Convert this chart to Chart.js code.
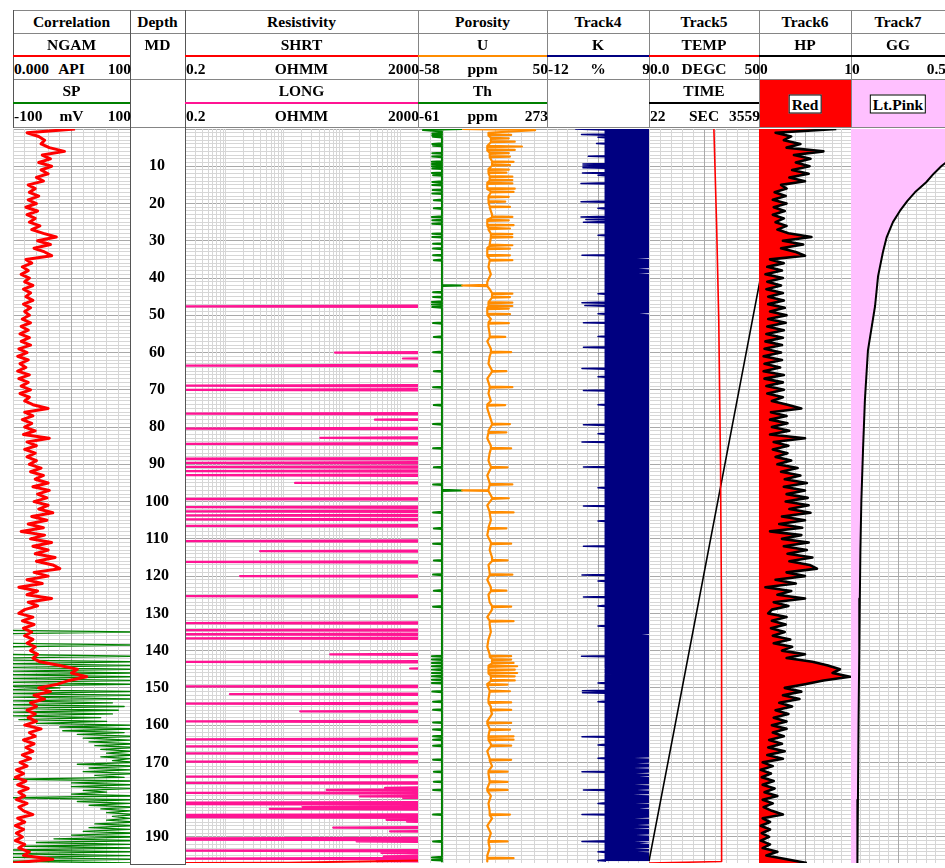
<!DOCTYPE html>
<html>
<head>
<meta charset="utf-8">
<script src="https://cdn.jsdelivr.net/npm/chart.js@4.4.1/dist/chart.umd.min.js"></script>
<style>
  html, body { margin: 0; padding: 0; background: #fff; }
  body { position: relative; width: 945px; height: 868px; overflow: hidden;
         font-family: "Liberation Serif", "Times New Roman", serif; }
  .hl { position: absolute; height: 1px; background: #858585; z-index: 2; }
  .vl { position: absolute; width: 1px; background: #858585; z-index: 2; }
  .bar { position: absolute; height: 2px; z-index: 2; }
  .t { position: absolute; white-space: nowrap; font-weight: bold; font-size: 15.5px; line-height: 1; color: #000; z-index: 3; }
  .box { position: absolute; }
  .tag { position: absolute; background: #fff; border: 1px solid #000; font-weight: bold; font-size: 15.5px;
         line-height: 17px; padding: 0 2px; transform: translate(-50%, -50%); white-space: nowrap; z-index: 3; }
  .plot { position: absolute; z-index: 1; }
</style>
</head>
<body>
<script>
// ---------------- depth axis ----------------
const DEPTH_MIN = 0;
const DEPTH_MAX = 197;
const depthLabels = [10, 20, 30, 40, 50, 60, 70, 80, 90, 100, 110, 120, 130, 140, 150, 160, 170, 180, 190];

// ---------------- header text ----------------
const trackTitles = ['Correlation', 'Depth', 'Resistivity', 'Porosity', 'Track4', 'Track5', 'Track6', 'Track7'];
// [track, row, mnemonic, left scale, unit, right scale, colour]
const curveHeaders = [
  [0, 0, 'NGAM', '0.000', 'API', '100', '#ff0000'],
  [0, 1, 'SP', '-100', 'mV', '100', '#008000'],
  [2, 0, 'SHRT', '0.2', 'OHMM', '2000', '#ff0000'],
  [2, 1, 'LONG', '0.2', 'OHMM', '2000', '#ff1493'],
  [3, 0, 'U', '-58', 'ppm', '50', '#ff8c00'],
  [3, 1, 'Th', '-61', 'ppm', '273', '#008000'],
  [4, 0, 'K', '-12', '%', '9', '#000080'],
  [5, 0, 'TEMP', '0.0', 'DEGC', '50', '#ff0000'],
  [5, 1, 'TIME', '22', 'SEC', '3559', '#000000'],
  [6, 0, 'HP', '0', '', '1', '#000000'],
  [7, 0, 'GG', '0', '', '0.5', '#000000']
];
// [track, label, fill colour]
const fillLegends = [
  [6, 'Red', '#ff0000'],
  [7, 'Lt.Pink', '#ffc0ff']
];

// ---------------- curve data ----------------
// NGAM (API), one sample per metre, 0..197 m
const ngam = [
  53,12,22,27,24,31,44,25,32,22,
  33,24,30,20,26,13,19,14,22,13,
  20,11,21,12,19,14,23,16,26,37,
  21,32,18,27,33,11,16,8,13,7,
  14,10,17,9,15,11,17,9,15,10,
  14,8,15,7,13,6,14,7,15,5,
  12,4,13,6,11,4,14,5,13,7,
  15,6,14,10,17,30,10,17,8,16,
  10,19,9,31,12,20,10,19,12,20,
  14,24,15,26,19,30,17,31,21,29,
  18,30,22,34,16,29,13,26,7,27,
  15,33,17,30,19,36,20,34,40,18,
  30,12,25,5,21,12,33,13,21,10,
  5,17,8,18,9,16,10,17,12,19,
  15,21,17,23,40,55,50,63,48,38,
  22,32,18,27,15,20,12,19,13,20,
  10,24,14,19,9,18,11,17,8,15,
  6,12,3,9,2,11,4,13,5,10,
  3,12,5,9,17,4,10,2,9,3,
  8,2,10,5,14,9,34,0
];

// SP (mV), every 0.5 m from 134 m
const spStart = 134;
const spStep = 0.5;
const sp = [
  -120,-120,110,-120,-120,-120,-120,-120,-120,110,
  -120,-120,-120,-120,-120,110,-120,-120,110,-110,
  110,-110,110,-110,110,-110,110,-110,110,-110,
  110,-110,-20,-110,110,-110,110,-100,110,-100,
  70,-110,90,-110,80,-100,70,-100,50,-90,
  60,-60,100,-20,110,-15,90,10,110,20,
  100,30,110,40,110,50,100,60,110,50,
  100,70,110,10,110,30,100,20,110,40,
  90,-110,110,0,100,0,110,20,60,0,
  110,-110,110,10,100,30,110,50,100,60,
  110,70,100,60,110,40,110,30,100,20,
  110,0,110,-30,110,-60,100,-80,110,-110,
  110,-110,100,-100,110,-110,100
];

// LONG (ohmm): reads above 2000 except at these depths [m, ohmm]
const RES_ABOVE_SCALE = 10000;
const longDips = [
  [47.6,0.1],[60.0,75],[61.6,1100],[63.5,0.1],[68.9,0.1],[70.0,0.1],[76.4,0.1],[78.0,364],
  [80.4,0.1],[82.9,42],[84.5,0.1],[88.5,0.1],[89.6,0.1],[90.7,0.1],[91.8,0.1],[92.9,0.1],
  [95.0,15.5],[99.3,0.1],[101.5,0.1],[102.6,0.1],[103.7,0.1],[104.8,0.1],[106.5,0.1],
  [110.6,0.1],[113.3,3.9],[116.2,0.1],[120.0,1.76],[125.4,0.1],[132.6,0.1],[134.5,0.1],
  [135.6,0.1],[136.7,0.1],[141.0,62],[143.0,0.1],[144.8,1460],[149.6,0.1],[151.7,1.18],
  [154.2,0.1],[156.3,19],[159.0,0.1],[163.8,0.1],[165.7,0.1],[167.6,0.1],[169.8,0.1],
  [173.8,0.1],[175.5,0.1],[176.8,544],[177.4,54],[178.2,0.1],[179.1,200],[179.5,1100],
  [180.8,0.1],[181.2,0.1],[182.0,21],[182.5,5.7],[184.1,0.1],[184.7,0.1],[185.4,576],
  [185.9,1300],[187.5,70],[188.5,660],[190.4,0.1],[190.7,0.1],[191.2,177],[193.7,0.1],
  [194.3,470],[195.2,520],[195.8,0.1],[196.5,390]
];
// SHRT (ohmm): only comes on scale in the last samples
const shrtDepth = [0, 196.2, 196.5, 196.9, 197];
const shrtVal = [10000, 10000, 395, 11.7, 0.1];

// U (ppm): top readings, then base trend every 2 m from 1 m, plus excursions
const uTop = [[0, -21], [0.3, 40]];
const uBaseStart = 1;
const uBaseStep = 2;
const uBase = [
  1,3,0,2,4,1,2,0,3,1,
  2,4,0,1,3,2,0,2,1,3,
  0,2,4,1,0,3,1,2,0,3,
  2,1,4,0,2,1,3,0,2,4,
  1,0,3,2,1,3,0,2,1,4,
  0,2,3,1,0,3,2,4,1,2,
  0,3,1,2,4,0,2,3,1,0,
  2,4,1,3,0,2,1,3,4,0,
  2,1,3,0,2,4,1,2,0,3,
  1,2,4,0,3,1,2,0
];
const uEnd = 196.6;
const uPeaks = [
  [1.6,20],[2.5,18],[3.4,23],[4.7,29],[5.6,23],[6.5,18],[7.4,19],[8.8,22],[9.7,19],[10.9,18],
  [11.7,16],[12.8,21],[13.7,21],[14.6,21],[16.0,23],[16.9,22],[18.2,18],[19.5,15],[20.9,19],
  [23.6,21],[24.5,18],[25.8,22],[26.7,19],[28.2,21],[29.0,21],[31.2,21],[32.1,19],[33.9,19],
  [35.2,21],[42.0,-21],[44.2,21],[45.1,19],[46.6,21],[47.5,21],[48.2,18],[49.7,19],
  [52.1,18],[55.8,15],[59.9,20],[65.0,16],[69.3,21],[74.1,15],[79.2,19],[81.4,16],[85.7,20],
  [90.8,17],[95.4,21],[97.0,-21],[99.1,18],[102.9,22],[107.2,16],[111.3,20],[115.8,17],
  [119.6,21],[123.9,16],[128.2,20],[132.1,22],[141.5,20],[142.4,20],[143.3,22],[144.2,25],
  [145.1,23],[146.0,25],[146.9,23],[148.0,23],[149.1,17],[150.9,19],[153.9,20],[155.9,20],
  [159.4,20],[161.2,19],[163.0,22],[163.9,22],[165.5,20],[169.3,20],[172.5,17],[175.2,17],
  [177.4,17],[184.0,19],[191.2,17],[195.7,22]
];

// Th (ppm): steady base with excursions
const thBase = [[0, 53], [0.3, -48], [0.7, 1], [196.6, 1]];
const thPeaks = [
  [1.2,-24],[1.7,-24],[2.1,-22],[4.0,-24],[4.5,-22],[6.5,-24],[7.4,-24],[8.8,-25],[9.4,-25],
  [10.0,-25],[10.6,-24],[11.8,-25],[12.4,-22],[14.2,-24],[15.0,-24],[16.4,-23],[17.3,-24],
  [19.1,-20],[21.3,-20],[23.6,-25],[24.5,-24],[25.4,-24],[28.1,-24],[29.0,-24],[30.8,-22],
  [32.1,-22],[33.9,-22],[35.2,-20],[42.0,53],[43.8,-22],[45.1,-22],[46.4,-25],[47.1,-25],
  [47.8,-24],[52.1,-22],[55.8,-20],[59.9,-22],[65.0,-20],[69.3,-22],[74.1,-20],[79.2,-22],
  [85.7,-22],[90.8,-20],[95.4,-22],[97.0,53],[102.9,-22],[107.2,-20],[111.3,-22],[115.8,-20],
  [119.6,-22],[123.9,-20],[128.2,-22],[141.5,-25],[142.4,-25],[143.3,-25],[144.2,-25],
  [145.1,-25],[146.0,-25],[146.9,-25],[147.8,-25],[148.7,-25],[151.0,-24],[153.7,-22],
  [155.9,-22],[159.3,-22],[161.2,-22],[163.0,-22],[163.9,-22],[165.5,-22],[169.3,-22],
  [172.5,-20],[175.2,-20],[177.4,-22],[184.0,-22],[191.2,-22],[195.5,-25],[196.2,-25]
];

// K (%): the trace swings between a low and a high envelope
const kLowBase = [[0, -6.2], [0.3, 0], [196.5, 0]];
const kLowPeaks = [
  [1.5,-4.9],[2.2,-1.5],[3.9,-1.8],[7.3,-3.5],[9.4,-4.6],[9.9,-4.6],[10.4,-4.6],[11.8,-4.7],
  [12.4,-1.5],[14.6,-5],[19.5,-5],[21.3,-1.5],[23.6,-5],[24.3,-4],[25.0,-4.5],[28.5,-1.5],
  [33.9,-4.8],[44.2,-1.5],[46.6,-4.8],[47.4,-4.2],[49.6,-1.5],[52.0,-4.5],[55.7,-1.5],
  [58.6,-4.5],[64.3,-4.8],[66.5,-1.5],[70.2,-4.5],[74.0,-1.5],[79.4,-4.5],[81.8,-1.5],
  [84.0,-4.8],[90.7,-4.5],[96.3,-1.5],[101.2,-4.5],[105.2,-1.5],[112.0,-4.5],[119.7,-4.8],
  [121.3,-1.5],[125.6,-4.5],[128.0,-1.5],[133.4,-1.5],[141.5,-4.9],[144.8,3],[146.2,3],
  [148.7,-1.5],[150.8,-4.7],[151.3,-4.7],[153.7,-1.5],[163.1,-4.8],[165.3,-1.5],[168.9,-1.5],
  [172.5,-4.8],[177.4,-4.5],[181.0,-1.5],[184.0,-4.8],[191.2,-4.8],[194.0,-1.5],[196.3,-1.5]
];
const kHighBase = [[0, 9.6], [196.5, 9.6]];
const kHighDips = [
  [34.8,6.5],[37.5,6.8],[38.8,6.8],[49.6,7],[135.7,7.5],[168.8,6.0],[170.2,6.5],[171.5,5.8],
  [172.9,6.3],[173.8,7.0],[176.0,6.0],[177.4,6.5],[178.7,5.8],[181.0,6.2],[182.3,7.0],
  [185.0,6.0],[186.8,6.6],[187.7,5.8],[189.5,6.3],[191.3,6.0],[191.7,7.0],[193.1,6.1],[194.0,6.6]
];

// TEMP (DEGC) and TIME (SEC)
const tempDepth = [0, 25, 51, 90, 132, 196.6, 197];
const tempVal = [29.5, 30.7, 31.7, 32.5, 33.0, 33.0, 0];
const timeDepth = [0, 40, 80, 120, 160, 196.5];
const timeVal = [4518, 3605, 2690, 1775, 861, 22];

// HP (0..1), one sample per metre, 0..197 m
const hp = [
  .84,.18,.35,.27,.45,.30,.70,.38,.56,.40,
  .55,.36,.54,.33,.50,.24,.30,.17,.29,.15,
  .30,.16,.28,.15,.27,.18,.30,.20,.32,.57,
  .26,.48,.24,.40,.50,.12,.27,.09,.25,.07,
  .26,.09,.24,.08,.26,.10,.27,.10,.28,.12,
  .30,.10,.29,.09,.27,.08,.26,.07,.25,.06,
  .24,.05,.25,.06,.23,.05,.27,.06,.26,.08,
  .27,.09,.26,.14,.31,.46,.13,.30,.12,.31,
  .14,.33,.12,.50,.16,.32,.15,.31,.18,.35,
  .20,.42,.24,.45,.28,.52,.27,.50,.30,.53,
  .29,.54,.33,.56,.25,.50,.22,.47,.12,.46,
  .25,.54,.27,.52,.31,.58,.33,.55,.63,.30,
  .50,.18,.40,.07,.35,.20,.50,.16,.32,.14,
  .10,.30,.14,.29,.13,.28,.15,.34,.16,.36,
  .25,.50,.30,.58,.75,.88,.80,.99,.70,.50,
  .28,.46,.26,.44,.22,.36,.18,.32,.16,.30,
  .14,.30,.15,.27,.11,.25,.10,.28,.09,.26,
  .04,.15,.02,.13,.03,.16,.04,.17,.06,.20,
  .04,.15,.05,.14,.26,.04,.12,.02,.12,.03,
  .11,.02,.12,.04,.20,.08,.30,.52
];

// GG (0..0.5)
const ggDepth = [0, 4, 8, 10, 12, 14.3, 17, 19.3, 22, 25, 29, 33, 39.5, 47.5, 59.5, 72.7, 86, 100, 113, 126, 140, 160, 180, 197];
const ggVal = [1.0, 0.70, 0.53, 0.48, 0.44, 0.40, 0.34, 0.30, 0.26, 0.223, 0.19, 0.17, 0.144, 0.128, 0.09, 0.074, 0.064, 0.055, 0.05, 0.047, 0.044, 0.04, 0.037, 0.034];

// ---------------- layout ----------------
const colEdges = [13, 130, 185, 418, 547, 649, 759, 851, 945];
const PLOT_TOP = 129, PLOT_BOTTOM = 863;
const HEAD = { top: 10, title: 33, mn0: 56, sc0: 79, mn1: 103, sc1: 127 };
const GRID_MINOR = '#d6d6d6';
const GRID_MAJOR = '#a9a9a9';
const FONT_FAMILY = '"Liberation Serif", "Times New Roman", serif';

function el(cls, css, text) {
  const d = document.createElement('div');
  d.className = cls;
  Object.assign(d.style, css);
  if (text !== undefined) d.textContent = text;
  document.body.appendChild(d);
  return d;
}
function textAt(text, x, y, align) {
  const shift = align === 'left' ? '0' : align === 'right' ? '-100%' : '-50%';
  el('t', { left: x + 'px', top: y + 'px', transform: `translate(${shift}, -50%)` }, text);
}

// ---------------- header ----------------
function buildHeader() {
  const L = colEdges[0], R = colEdges[colEdges.length - 1];
  [HEAD.top, HEAD.title, HEAD.sc0, HEAD.sc1].forEach(y =>
    el('hl', { left: L + 'px', top: y + 'px', width: (R - L) + 'px' }));
  colEdges.forEach((x, i) => {
    const isDepthSide = i === 1 || i === 2;
    el('vl', { left: x + 'px', top: HEAD.top + 'px',
      height: ((isDepthSide ? 864 : HEAD.sc1) - HEAD.top + 1) + 'px',
      background: (i === 0 || isDepthSide) ? '#555' : '#858585' });
  });
  el('hl', { left: colEdges[1] + 'px', top: '864px', width: (colEdges[2] - colEdges[1] + 1) + 'px', background: '#555' });

  trackTitles.forEach((t, i) => textAt(t, (colEdges[i] + colEdges[i + 1]) / 2, 22, 'center'));
  textAt('MD', (colEdges[1] + colEdges[2]) / 2, 45, 'center');

  curveHeaders.forEach(([tr, row, name, lo, unit, hi, color]) => {
    const x0 = colEdges[tr], x1 = colEdges[tr + 1];
    const lineY = row === 0 ? HEAD.mn0 - 1 : HEAD.mn1 - 1;
    const nameY = row === 0 ? 45 : 91;
    const scaleY = row === 0 ? 68.5 : 115.5;
    el('bar', { left: x0 + 'px', top: lineY + 'px', width: (x1 - x0) + 'px', background: color });
    textAt(name, (x0 + x1) / 2, nameY, 'center');
    textAt(lo, x0 + 1, scaleY, 'left');
    if (unit) textAt(unit, (x0 + x1) / 2, scaleY, 'center');
    textAt(hi, x1 + 1, scaleY, 'right');
  });

  fillLegends.forEach(([tr, label, color]) => {
    const x0 = colEdges[tr], x1 = colEdges[tr + 1];
    el('box', { left: (x0 + 1) + 'px', top: (HEAD.sc0 + 1) + 'px', width: (x1 - x0 - 1) + 'px',
      height: (HEAD.sc1 - HEAD.sc0 - 1) + 'px', background: color });
    el('tag', { left: ((x0 + x1) / 2) + 'px', top: '104px' }, label);
  });
}
buildHeader();

// ---------------- data helpers ----------------
const fromGrid = (vals, start, step) => vals.map((v, i) => ({ y: start + i * step, x: v }));
const fromPairs = pairs => pairs.map(([d, v]) => ({ y: d, x: v }));
const fromColumns = (depths, vals) => depths.map((d, i) => ({ y: d, x: vals[i] }));

// nearest recorded base reading for a depth
function nearestBase(points, d) {
  let best = points[0];
  points.forEach(p => { if (Math.abs(p.y - d) < Math.abs(best.y - d)) best = p; });
  return best.x;
}
// add short single-sample excursions to a base trace
function withExcursions(base, peaks, half) {
  const pts = base.slice();
  peaks.forEach(([d, v]) => {
    const b = nearestBase(base, d);
    pts.push({ y: d - half, x: b }, { y: d, x: v }, { y: d + half, x: b });
  });
  return pts.sort((a, b) => a.y - b.y);
}

// ---------------- scales ----------------
const depthGrid = [];
for (let d = DEPTH_MIN; d <= DEPTH_MAX; d++) depthGrid.push(d);

function depthScale() {
  return {
    type: 'linear', reverse: true, min: DEPTH_MIN, max: DEPTH_MAX,
    afterBuildTicks: s => { s.ticks = depthGrid.map(v => ({ value: v })); },
    afterFit: s => { s.width = 0; s.paddingTop = 0; s.paddingBottom = 0; },
    ticks: { display: false, autoSkip: false },
    border: { display: false },
    grid: { drawTicks: false, lineWidth: 1,
      color: c => (c.tick && c.tick.value % 10 === 0) ? GRID_MAJOR : GRID_MINOR }
  };
}
function linearScale(min, max, withGrid) {
  return {
    type: 'linear', min, max, position: 'top',
    afterBuildTicks: s => {
      const t = [];
      for (let i = 0; i <= 10; i++) t.push({ value: min + (max - min) * i / 10 });
      s.ticks = t;
    },
    afterFit: s => { s.height = 0; s.paddingLeft = 0; s.paddingRight = 0; },
    ticks: { display: false, autoSkip: false },
    border: { display: false },
    grid: { display: withGrid, drawTicks: false, color: c => c.index === 5 ? GRID_MAJOR : GRID_MINOR }
  };
}
function logScale(min, max) {
  const t = [];
  for (let e = -1; e <= 3; e++) {
    for (let k = 1; k <= 9; k++) {
      const v = parseFloat((k * Math.pow(10, e)).toPrecision(3));
      if (v >= min - 1e-9 && v <= max + 1e-9) t.push(v);
    }
  }
  return {
    type: 'logarithmic', min, max, position: 'top',
    afterBuildTicks: s => { s.ticks = t.map(v => ({ value: v })); },
    afterFit: s => { s.height = 0; s.paddingLeft = 0; s.paddingRight = 0; },
    ticks: { display: false, autoSkip: false },
    border: { display: false },
    grid: { drawTicks: false, color: GRID_MINOR }
  };
}

function line(points, color, width, extra) {
  return Object.assign({
    data: points, borderColor: color, borderWidth: width, backgroundColor: color,
    pointRadius: 0, tension: 0, fill: false, borderJoinStyle: 'round'
  }, extra || {});
}

function track(col, scales, datasets) {
  const x0 = colEdges[col], w = colEdges[col + 1] - x0, h = PLOT_BOTTOM - PLOT_TOP;
  const wrap = el('plot', { left: x0 + 'px', top: PLOT_TOP + 'px', width: w + 'px', height: h + 'px' });
  const cv = document.createElement('canvas');
  cv.width = w; cv.height = h;
  wrap.appendChild(cv);
  return new Chart(cv, {
    type: 'line',
    data: { datasets },
    options: {
      indexAxis: 'y', responsive: false, animation: false, events: [],
      layout: { padding: 0 },
      plugins: { legend: { display: false }, tooltip: { enabled: false } },
      scales: Object.assign({ y: depthScale() }, scales)
    }
  });
}

// ---------------- tracks ----------------
// Correlation: NGAM over SP
track(0, { x: linearScale(0, 100, true), x2: linearScale(-100, 100, false) }, [
  line(fromGrid(ngam, DEPTH_MIN, 1), '#ff0000', 3, { xAxisID: 'x' }),
  line(fromGrid(sp, spStart, spStep), '#008000', 1.3, { xAxisID: 'x2' })
]);

// Depth labels
(function () {
  const x0 = colEdges[1], w = colEdges[2] - x0, h = PLOT_BOTTOM - PLOT_TOP;
  const wrap = el('plot', { left: x0 + 'px', top: PLOT_TOP + 'px', width: w + 'px', height: h + 'px' });
  const cv = document.createElement('canvas');
  cv.width = w; cv.height = h;
  wrap.appendChild(cv);
  new Chart(cv, {
    type: 'line',
    data: { datasets: [] },
    options: {
      responsive: false, animation: false, events: [],
      layout: { padding: 0 },
      plugins: { legend: { display: false }, tooltip: { enabled: false } },
      scales: {
        x: { display: false },
        y: {
          type: 'linear', reverse: true, min: DEPTH_MIN, max: DEPTH_MAX, position: 'left',
          afterBuildTicks: s => { s.ticks = depthLabels.map(v => ({ value: v })); },
          afterFit: s => { s.width = w; s.paddingTop = 0; s.paddingBottom = 0; },
          grid: { display: false, drawTicks: false },
          border: { display: false },
          ticks: { autoSkip: false, padding: 16, crossAlign: 'center', color: '#000',
            font: { family: FONT_FAMILY, size: 16, weight: 'bold' } }
        }
      }
    }
  });
})();

// Resistivity: LONG and SHRT on a 0.2..2000 log scale
track(2, { x: logScale(0.2, 2000) }, [
  line(fromColumns(shrtDepth, shrtVal), '#ff0000', 2),
  line(withExcursions([{ y: DEPTH_MIN, x: RES_ABOVE_SCALE }, { y: DEPTH_MAX, x: RES_ABOVE_SCALE }], longDips, 0.2),
       '#ff1493', 2.2)
]);

// Porosity: U and Th
const uPoints = fromPairs(uTop).concat(fromGrid(uBase, uBaseStart, uBaseStep));
uPoints.push({ y: uEnd, x: uBase[uBase.length - 1] });
track(3, { x: linearScale(-58, 50, true), x2: linearScale(-61, 273, false) }, [
  line(withExcursions(uPoints, uPeaks, 0.15), '#ff8c00', 2.2, { xAxisID: 'x' }),
  line(withExcursions(fromPairs(thBase), thPeaks, 0.15), '#008000', 2, { xAxisID: 'x2' })
]);

// Track4: K envelope
track(4, { x: linearScale(-12, 9, true) }, [
  line(withExcursions(fromPairs(kLowBase), kLowPeaks, 0.15), '#000080', 1.5, { fill: '+1', backgroundColor: '#000080' }),
  line(withExcursions(fromPairs(kHighBase), kHighDips, 0.15), 'rgba(0,0,128,0)', 1)
]);

// Track5: TEMP and TIME
track(5, { x: linearScale(0, 50, true), x2: linearScale(22, 3559, false) }, [
  line(fromColumns(tempDepth, tempVal), '#ff0000', 1.6, { xAxisID: 'x' }),
  line(fromColumns(timeDepth, timeVal), '#000000', 1.6, { xAxisID: 'x2' })
]);

// Track6: HP with red fill from the left edge
track(6, { x: linearScale(0, 1, true) }, [
  line(fromGrid(hp, DEPTH_MIN, 1), '#000000', 2.6, { fill: 'start', backgroundColor: '#ff0000' })
]);

// Track7: GG with light pink fill from the left edge
track(7, { x: linearScale(0, 0.5, true) }, [
  line(fromColumns(ggDepth, ggVal), '#000000', 2, { fill: 'start', backgroundColor: '#ffc0ff' })
]);
</script>
</body>
</html>
